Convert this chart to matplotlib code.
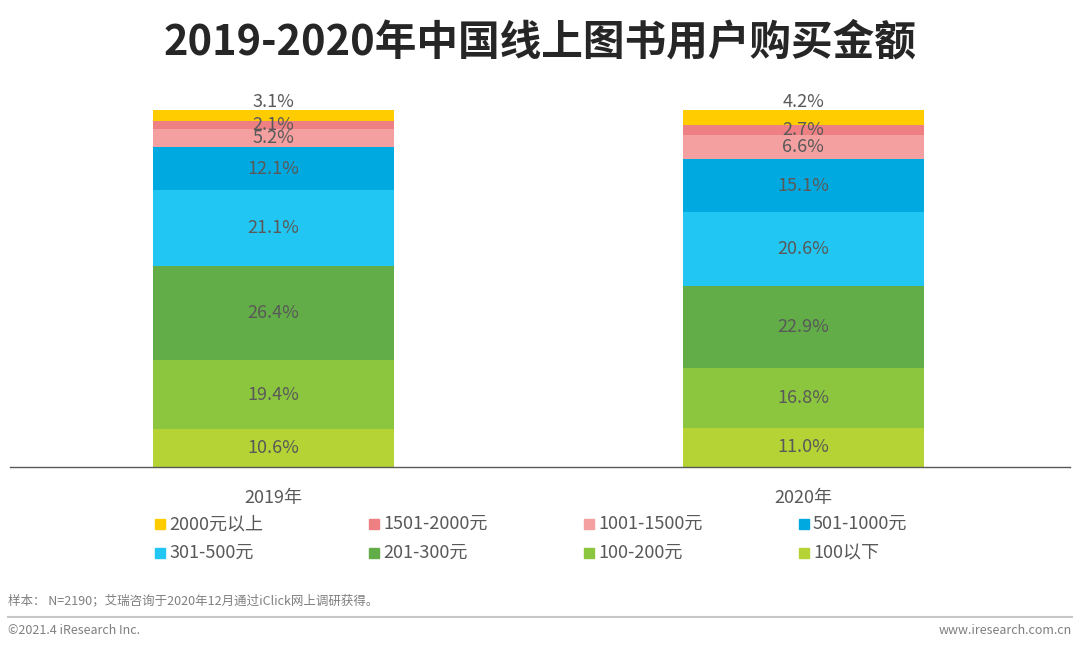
import matplotlib
matplotlib.use("Agg")
import matplotlib.pyplot as plt
from matplotlib.patches import Rectangle
from matplotlib.lines import Line2D

plt.rcParams['font.family'] = ['Noto Sans CJK SC', 'DejaVu Sans']

years = ["2019年", "2020年"]
segments = ["100以下", "100-200元", "201-300元", "301-500元",
            "501-1000元", "1001-1500元", "1501-2000元", "2000元以上"]
values_2019 = [10.6, 19.4, 26.4, 21.1, 12.1, 5.2, 2.1, 3.1]
values_2020 = [11.0, 16.8, 22.9, 20.6, 15.1, 6.6, 2.7, 4.2]
colors = ["#B5D334", "#8CC63F", "#62AD47", "#22C6F2",
          "#00A9E0", "#F4A0A0", "#EE8083", "#FFCC00"]
legend_order = ["2000元以上", "1501-2000元", "1001-1500元", "501-1000元",
                "301-500元", "201-300元", "100-200元", "100以下"]

W, H = 1080, 652
fig = plt.figure(figsize=(W / 100, H / 100), dpi=100)

ax = fig.add_axes([10 / W, (H - 467) / H, 1060 / W, (467 - 110) / H])
x = [0, 1]
ax.set_xlim(-0.4976, 1.504)
ax.set_ylim(0, 100)
bw = 0.455
series = [values_2019, values_2020]
txtcol = "#595959"
for xi, vals in zip(x, series):
    bottom = 0
    n = len(vals)
    for i, (v, c) in enumerate(zip(vals, colors)):
        ax.bar(xi, v, bw, bottom=bottom, color=c, edgecolor='none')
        if i == n - 1:
            ax.text(xi, bottom + v - 0.2, f"{v:.1f}%", ha='center', va='bottom',
                    fontsize=13, color=txtcol)
        else:
            ax.text(xi, bottom + v / 2, f"{v:.1f}%", ha='center', va='center',
                    fontsize=13, color=txtcol)
        bottom += v

for s in ['top', 'right', 'left']:
    ax.spines[s].set_visible(False)
ax.spines['bottom'].set_color('#595959')
ax.spines['bottom'].set_linewidth(1.0)
ax.set_yticks([])
ax.set_xticks(x)
ax.set_xticklabels(years, fontsize=13, color=txtcol)
ax.tick_params(axis='x', length=0, pad=16)

fig.text(0.5, (H - 42) / H, "2019-2020年中国线上图书用户购买金额", ha='center', va='center',
         fontsize=30, fontweight='bold', color='#262626')

# legend
col_x = [155, 369, 584, 799]
row_y = [524, 553]
cmap = dict(zip(segments, colors))
for k, name in enumerate(legend_order):
    r, c = divmod(k, 4)
    px, py = col_x[c], row_y[r]
    fig.patches.append(Rectangle((px / W, (H - py - 5) / H), 10 / W, 10 / H,
                                 transform=fig.transFigure, color=cmap[name]))
    fig.text((px + 14) / W, (H - py) / H, name, ha='left', va='center',
             fontsize=13, color=txtcol)

fig.text(8 / W, (H - 601) / H, "样本： N=2190；艾瑞咨询于2020年12月通过iClick网上调研获得。",
         ha='left', va='center', fontsize=9, color='#7F7F7F')
fig.add_artist(Line2D([8 / W, 1072 / W], [(H - 617) / H] * 2, transform=fig.transFigure,
                      color='#C8C8C8', linewidth=1.5))
fig.text(8 / W, (H - 631) / H, "©2021.4 iResearch Inc.", ha='left', va='center',
         fontsize=9, color='#7F7F7F')
fig.text(1072 / W, (H - 631) / H, "www.iresearch.com.cn", ha='right', va='center',
         fontsize=9, color='#7F7F7F')

fig.savefig("out.png", dpi=100)
